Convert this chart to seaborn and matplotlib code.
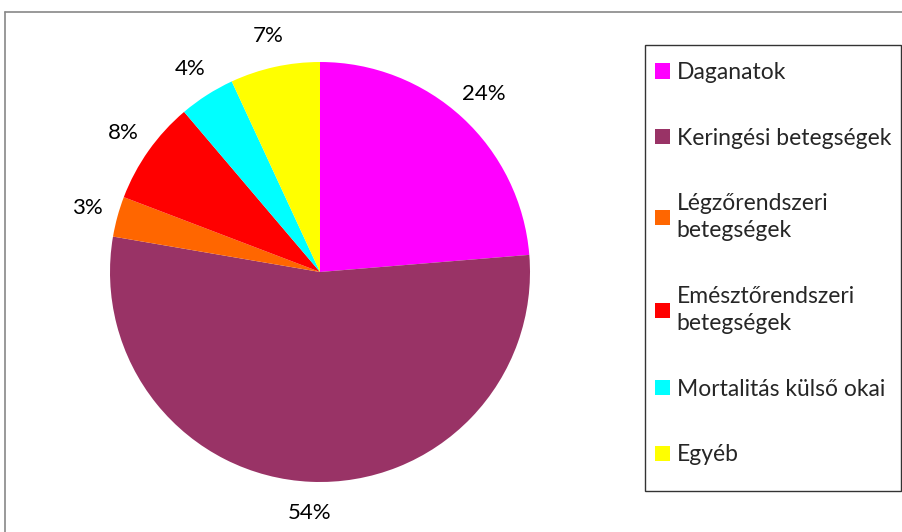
import seaborn as sns
import matplotlib.pyplot as plt
from matplotlib.lines import Line2D
from matplotlib.patches import Rectangle

# causes of death, share in percent
categories = ["Daganatok", "Keringési betegségek", "Légzőrendszeri\nbetegségek",
              "Emésztőrendszeri\nbetegségek", "Mortalitás külső okai", "Egyéb"]
shares = [23.7, 54.0, 3.1, 8.0, 4.3, 6.9]
colors = ["#FF00FF", "#993366", "#FF6600", "#FF0000", "#00FFFF", "#FFFF00"]

sns.set_theme(style="white")
plt.rcParams["font.family"] = ["Lato", "DejaVu Sans"]

fig = plt.figure(figsize=(9.03, 5.32), dpi=100)
ax = fig.add_axes([110 / 903, 50 / 532, 420 / 903, 420 / 532])

wedges, texts, autotexts = ax.pie(
    shares,
    colors=sns.color_palette(colors),
    startangle=90,
    counterclock=False,
    autopct="%.0f%%",
    pctdistance=1.15,
    wedgeprops={"linewidth": 0},
    textprops={"fontsize": 16, "color": "black"},
)
ax.set_aspect("equal")
ax.set_xlim(-1, 1)
ax.set_ylim(-1, 1)
ax.axis("off")

leg = fig.legend(
    wedges, categories,
    loc="upper left", bbox_to_anchor=(655 / 903, 1 - 62 / 532),
    frameon=False, fontsize=16.5,
    handlelength=0.65, handleheight=0.65, handletextpad=0.3,
    labelspacing=1.95, borderpad=0, borderaxespad=0,
)
for t in leg.get_texts():
    t.set_linespacing(1.35)

# legend box
fig.add_artist(Rectangle((645 / 903, 1 - 491 / 532), 256 / 903, 446 / 532,
                         transform=fig.transFigure, fill=False,
                         edgecolor="#333333", lw=1))

# outer chart border (only left and top visible)
fig.add_artist(Line2D([5 / 903, 5 / 903], [0, 1 - 12 / 532], color="#888888", lw=1.2))
fig.add_artist(Line2D([5 / 903, 1], [1 - 12 / 532, 1 - 12 / 532], color="#888888", lw=1.2))

fig.savefig("out.png", dpi=100)
